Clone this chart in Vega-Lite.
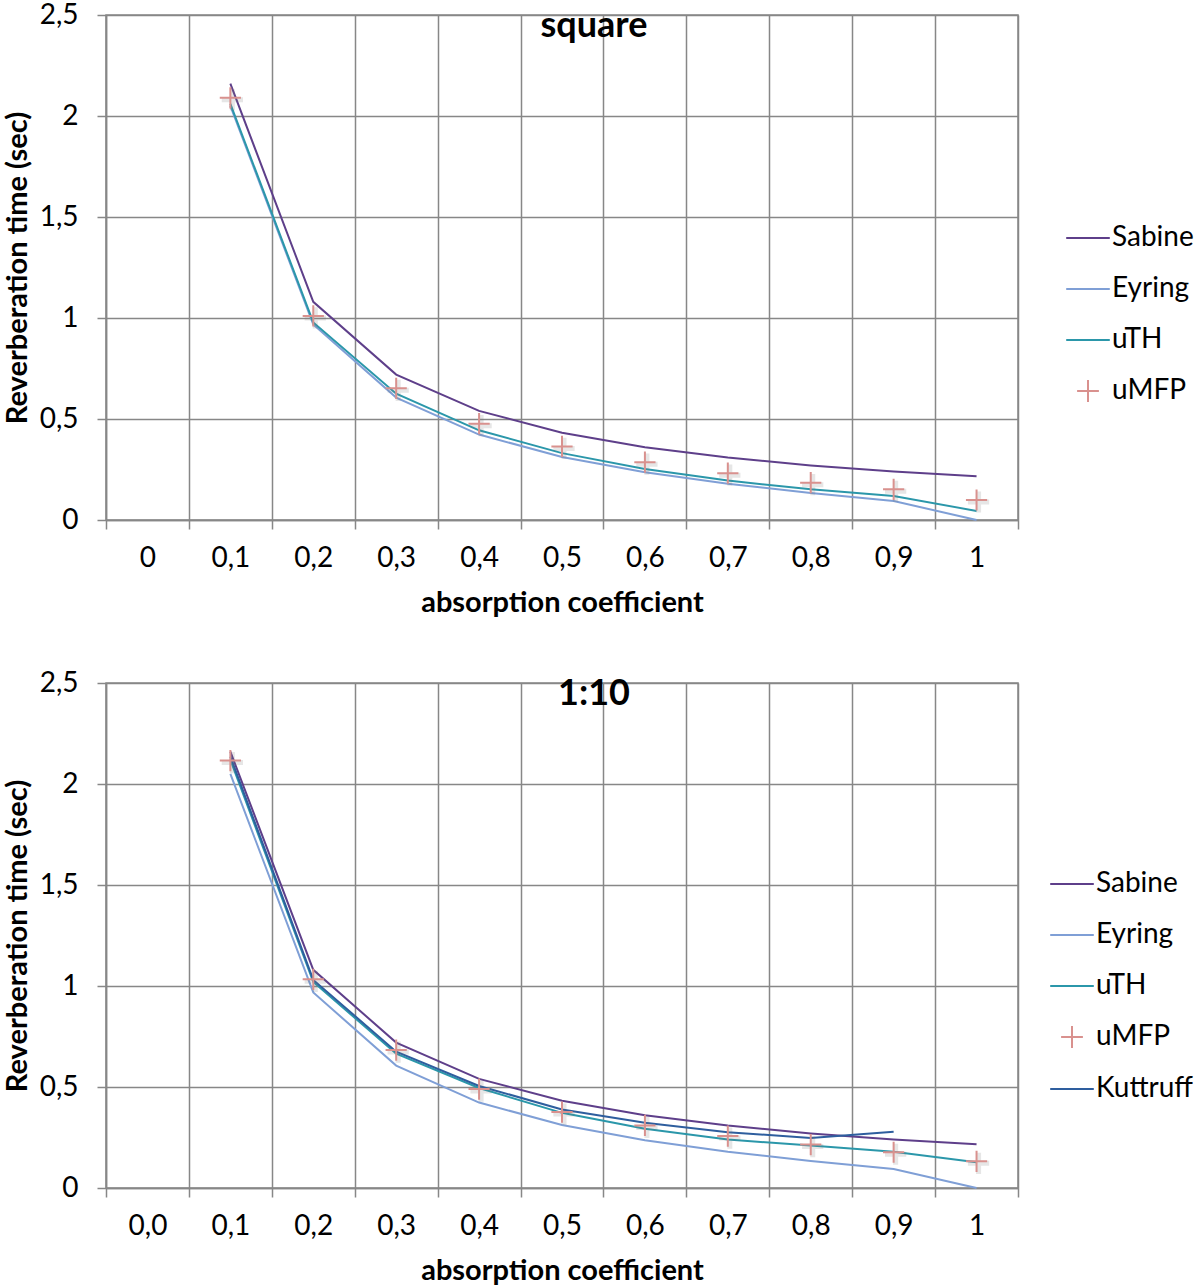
{
  "$schema": "https://vega.github.io/schema/vega-lite/v6.json",
  "background": "white",
  "padding": {"left": 2, "top": 0, "right": 0, "bottom": 0},
  "datasets": {
    "square": [
      {"a": "0,1", "series": "Sabine", "t": 2.16},
      {"a": "0,2", "series": "Sabine", "t": 1.08},
      {"a": "0,3", "series": "Sabine", "t": 0.72},
      {"a": "0,4", "series": "Sabine", "t": 0.54},
      {"a": "0,5", "series": "Sabine", "t": 0.432},
      {"a": "0,6", "series": "Sabine", "t": 0.36},
      {"a": "0,7", "series": "Sabine", "t": 0.309},
      {"a": "0,8", "series": "Sabine", "t": 0.27},
      {"a": "0,9", "series": "Sabine", "t": 0.24},
      {"a": "1", "series": "Sabine", "t": 0.216},
      {"a": "0,1", "series": "Eyring", "t": 2.05},
      {"a": "0,2", "series": "Eyring", "t": 0.968},
      {"a": "0,3", "series": "Eyring", "t": 0.606},
      {"a": "0,4", "series": "Eyring", "t": 0.423},
      {"a": "0,5", "series": "Eyring", "t": 0.312},
      {"a": "0,6", "series": "Eyring", "t": 0.236},
      {"a": "0,7", "series": "Eyring", "t": 0.179},
      {"a": "0,8", "series": "Eyring", "t": 0.134},
      {"a": "0,9", "series": "Eyring", "t": 0.094},
      {"a": "1", "series": "Eyring", "t": 0.0},
      {"a": "0,1", "series": "uTH", "t": 2.06},
      {"a": "0,2", "series": "uTH", "t": 0.978},
      {"a": "0,3", "series": "uTH", "t": 0.625},
      {"a": "0,4", "series": "uTH", "t": 0.444},
      {"a": "0,5", "series": "uTH", "t": 0.331},
      {"a": "0,6", "series": "uTH", "t": 0.252},
      {"a": "0,7", "series": "uTH", "t": 0.195},
      {"a": "0,8", "series": "uTH", "t": 0.152},
      {"a": "0,9", "series": "uTH", "t": 0.119},
      {"a": "1", "series": "uTH", "t": 0.045},
      {"a": "0,1", "series": "uMFP", "t": 2.09},
      {"a": "0,2", "series": "uMFP", "t": 1.01},
      {"a": "0,3", "series": "uMFP", "t": 0.652},
      {"a": "0,4", "series": "uMFP", "t": 0.477},
      {"a": "0,5", "series": "uMFP", "t": 0.364},
      {"a": "0,6", "series": "uMFP", "t": 0.286},
      {"a": "0,7", "series": "uMFP", "t": 0.232},
      {"a": "0,8", "series": "uMFP", "t": 0.185},
      {"a": "0,9", "series": "uMFP", "t": 0.152},
      {"a": "1", "series": "uMFP", "t": 0.099}
    ],
    "ratio": [
      {"a": "0,1", "series": "Sabine", "t": 2.16},
      {"a": "0,2", "series": "Sabine", "t": 1.08},
      {"a": "0,3", "series": "Sabine", "t": 0.72},
      {"a": "0,4", "series": "Sabine", "t": 0.54},
      {"a": "0,5", "series": "Sabine", "t": 0.432},
      {"a": "0,6", "series": "Sabine", "t": 0.36},
      {"a": "0,7", "series": "Sabine", "t": 0.309},
      {"a": "0,8", "series": "Sabine", "t": 0.27},
      {"a": "0,9", "series": "Sabine", "t": 0.24},
      {"a": "1", "series": "Sabine", "t": 0.216},
      {"a": "0,1", "series": "Eyring", "t": 2.05},
      {"a": "0,2", "series": "Eyring", "t": 0.968},
      {"a": "0,3", "series": "Eyring", "t": 0.606},
      {"a": "0,4", "series": "Eyring", "t": 0.423},
      {"a": "0,5", "series": "Eyring", "t": 0.312},
      {"a": "0,6", "series": "Eyring", "t": 0.236},
      {"a": "0,7", "series": "Eyring", "t": 0.179},
      {"a": "0,8", "series": "Eyring", "t": 0.134},
      {"a": "0,9", "series": "Eyring", "t": 0.094},
      {"a": "1", "series": "Eyring", "t": 0.0},
      {"a": "0,1", "series": "uTH", "t": 2.12},
      {"a": "0,2", "series": "uTH", "t": 1.02},
      {"a": "0,3", "series": "uTH", "t": 0.665},
      {"a": "0,4", "series": "uTH", "t": 0.495},
      {"a": "0,5", "series": "uTH", "t": 0.372},
      {"a": "0,6", "series": "uTH", "t": 0.293},
      {"a": "0,7", "series": "uTH", "t": 0.24},
      {"a": "0,8", "series": "uTH", "t": 0.21},
      {"a": "0,9", "series": "uTH", "t": 0.179},
      {"a": "1", "series": "uTH", "t": 0.127},
      {"a": "0,1", "series": "uMFP", "t": 2.116},
      {"a": "0,2", "series": "uMFP", "t": 1.033},
      {"a": "0,3", "series": "uMFP", "t": 0.683},
      {"a": "0,4", "series": "uMFP", "t": 0.49},
      {"a": "0,5", "series": "uMFP", "t": 0.376},
      {"a": "0,6", "series": "uMFP", "t": 0.31},
      {"a": "0,7", "series": "uMFP", "t": 0.257},
      {"a": "0,8", "series": "uMFP", "t": 0.215},
      {"a": "0,9", "series": "uMFP", "t": 0.177},
      {"a": "1", "series": "uMFP", "t": 0.132},
      {"a": "0,1", "series": "Kuttruff", "t": 2.136},
      {"a": "0,2", "series": "Kuttruff", "t": 1.03},
      {"a": "0,3", "series": "Kuttruff", "t": 0.675},
      {"a": "0,4", "series": "Kuttruff", "t": 0.505},
      {"a": "0,5", "series": "Kuttruff", "t": 0.389},
      {"a": "0,6", "series": "Kuttruff", "t": 0.323},
      {"a": "0,7", "series": "Kuttruff", "t": 0.276},
      {"a": "0,8", "series": "Kuttruff", "t": 0.248},
      {"a": "0,9", "series": "Kuttruff", "t": 0.278}
    ]
  },
  "vconcat": [
    {
      "width": 912,
      "height": 505,
      "title": {"text": "square", "dx": 32, "offset": -44},
      "data": {"name": "square"},
      "encoding": {
        "x": {
          "field": "a", "type": "nominal", "bandPosition": 0.5,
          "scale": {"type": "band", "paddingInner": 0, "paddingOuter": 0,
            "domain": ["0", "0,1", "0,2", "0,3", "0,4", "0,5", "0,6", "0,7", "0,8", "0,9", "1"]},
          "axis": {"title": "absorption coefficient", "labelAngle": 0, "tickBand": "extent", "grid": true}
        },
        "y": {
          "field": "t", "type": "quantitative",
          "scale": {"domain": [0, 2.5], "nice": false},
          "axis": {"title": "Reverberation time (sec)", "values": [0, 0.5, 1, 1.5, 2, 2.5],
            "labelExpr": "replace(format(datum.value, '.1~f'), '.', ',')"}
        },
        "color": {
          "field": "series", "type": "nominal",
          "scale": {"domain": ["Sabine", "Eyring", "uTH", "uMFP"],
            "range": ["#5E3F8A", "#7F9FD6", "#2B97AA", "#D9918E"]},
          "legend": {"orient": "none", "legendX": 959, "legendY": 200,
            "encode": {"symbols": {"update": {"shape": {"signal": "datum.value === 'uMFP' ? 'M-0.5,0L0.5,0M0,-0.5L0,0.5' : 'stroke'"}}}}}
        }
      },
      "layer": [
        {"mark": {"type": "line", "strokeWidth": 2}, "transform": [{"filter": "datum.series !== 'uMFP'"}]},
        {"mark": {"type": "point", "shape": "M-1,0L1,0M0,-1L0,1", "size": 450, "filled": false, "strokeWidth": 5, "xOffset": 2, "yOffset": 2, "opacity": 0.18},
          "transform": [{"filter": "datum.series === 'uMFP'"}], "encoding": {"color": {"value": "#777"}}},
        {"mark": {"type": "point", "shape": "M-1,0L1,0M0,-1L0,1", "size": 450, "filled": false, "strokeWidth": 2, "opacity": 1},
          "transform": [{"filter": "datum.series === 'uMFP'"}]}
      ]
    },
    {
      "width": 912,
      "height": 505,
      "title": {"text": "1:10", "dx": 32, "offset": -44},
      "data": {"name": "ratio"},
      "encoding": {
        "x": {
          "field": "a", "type": "nominal", "bandPosition": 0.5,
          "scale": {"type": "band", "paddingInner": 0, "paddingOuter": 0,
            "domain": ["0,0", "0,1", "0,2", "0,3", "0,4", "0,5", "0,6", "0,7", "0,8", "0,9", "1"]},
          "axis": {"title": "absorption coefficient", "labelAngle": 0, "tickBand": "extent", "grid": true}
        },
        "y": {
          "field": "t", "type": "quantitative",
          "scale": {"domain": [0, 2.5], "nice": false},
          "axis": {"title": "Reverberation time (sec)", "values": [0, 0.5, 1, 1.5, 2, 2.5],
            "labelExpr": "replace(format(datum.value, '.1~f'), '.', ',')"}
        },
        "color": {
          "field": "series", "type": "nominal",
          "scale": {"domain": ["Sabine", "Eyring", "uTH", "uMFP", "Kuttruff"],
            "range": ["#5E3F8A", "#7F9FD6", "#2B97AA", "#D9918E", "#2E5E9E"]},
          "legend": {"orient": "none", "legendX": 943, "legendY": 178,
            "encode": {"symbols": {"update": {"shape": {"signal": "datum.value === 'uMFP' ? 'M-0.5,0L0.5,0M0,-0.5L0,0.5' : 'stroke'"}}}}}
        }
      },
      "layer": [
        {"mark": {"type": "line", "strokeWidth": 2}, "transform": [{"filter": "datum.series !== 'uMFP'"}]},
        {"mark": {"type": "point", "shape": "M-1,0L1,0M0,-1L0,1", "size": 450, "filled": false, "strokeWidth": 5, "xOffset": 2, "yOffset": 2, "opacity": 0.18},
          "transform": [{"filter": "datum.series === 'uMFP'"}], "encoding": {"color": {"value": "#777"}}},
        {"mark": {"type": "point", "shape": "M-1,0L1,0M0,-1L0,1", "size": 450, "filled": false, "strokeWidth": 2, "opacity": 1},
          "transform": [{"filter": "datum.series === 'uMFP'"}]}
      ]
    }
  ],
  "resolve": {"scale": {"color": "independent"}, "legend": {"color": "independent"}},
  "spacing": 50,
  "config": {
    "font": "Lato",
    "view": {"stroke": "#878787", "strokeWidth": 1.5},
    "title": {"font": "Lato", "fontSize": 36, "fontWeight": "bold", "color": "black", "anchor": "middle"},
    "axis": {
      "labelFont": "Lato", "labelFontSize": 28, "labelColor": "black",
      "titleFont": "Lato", "titleFontSize": 29, "titleFontWeight": "bold", "titleColor": "black",
      "gridColor": "#878787", "gridWidth": 1.5, "gridOpacity": 1,
      "domainColor": "#878787", "domainWidth": 1.5,
      "tickColor": "#878787", "tickWidth": 1.5, "tickSize": 9
    },
    "axisX": {"labelPadding": 15, "titlePadding": 16},
    "axisY": {"labelPadding": 19, "titlePadding": 7},
    "legend": {
      "labelFont": "Lato", "labelFontSize": 28, "labelColor": "black",
      "symbolSize": 1900, "symbolStrokeWidth": 2, "labelOffset": 1,
      "rowPadding": 14, "symbolType": "stroke", "title": null
    }
  }
}
